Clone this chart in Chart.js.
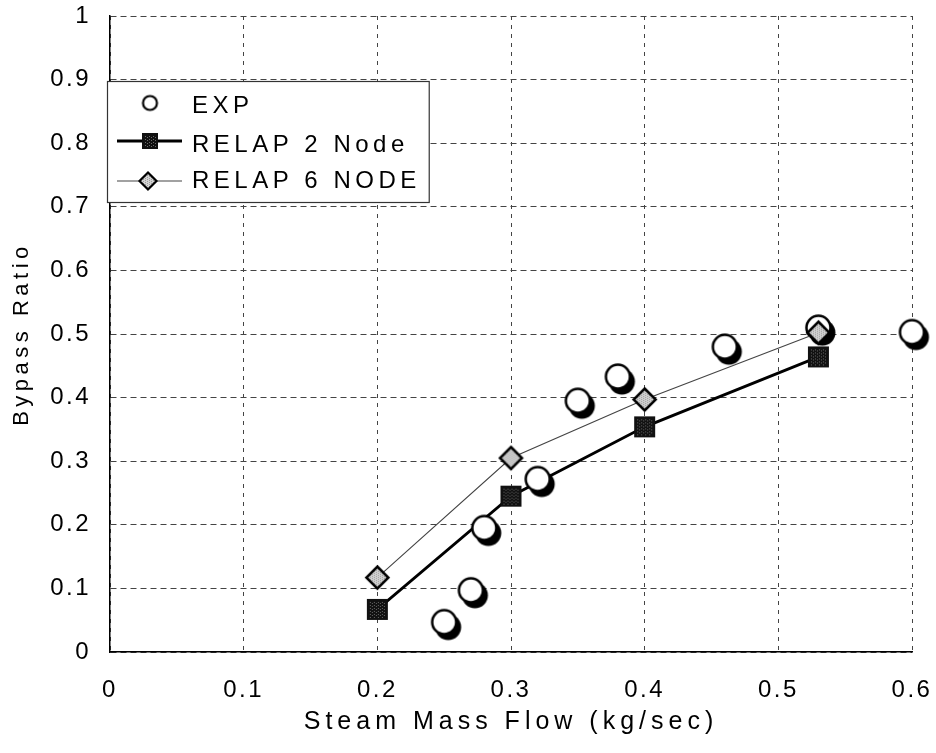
<!DOCTYPE html>
<html>

<head>
    <title>Bypass Ratio</title>
    <script src="https://cdn.jsdelivr.net/npm/chart.js@4.4.0/dist/chart.umd.min.js"></script>
    <style>
        html, body { margin: 0; padding: 0; background: #fff; }
    </style>
</head>

<body>
    <canvas id="myChart" width="936" height="753"></canvas>
</body>
<script>
    // measured data
    const expFlow = [0.25, 0.27, 0.28, 0.32, 0.35, 0.38, 0.46, 0.53, 0.60];
    const expRatio = [0.047, 0.097, 0.195, 0.272, 0.395, 0.433, 0.48, 0.51, 0.503];

    const relap2Flow = [0.2, 0.3, 0.4, 0.53];
    const relap2Ratio = [0.067, 0.245, 0.354, 0.464];

    const relap6Flow = [0.2, 0.3, 0.4, 0.53];
    const relap6Ratio = [0.117, 0.305, 0.397, 0.502];

    const xTickLabels = ['0', '0.1', '0.2', '0.3', '0.4', '0.5', '0.6'];
    const yTickLabels = ['0', '0.1', '0.2', '0.3', '0.4', '0.5', '0.6', '0.7', '0.8', '0.9', '1'];

    const FONT = "'Liberation Sans', Arial, Helvetica, sans-serif";

    function toPoints(xs, ys) {
        return xs.map((x, i) => ({ x: x, y: ys[i] }));
    }

    function makeCanvas(w, h, draw) {
        const c = document.createElement('canvas');
        c.width = w;
        c.height = h;
        draw(c.getContext('2d'));
        return c;
    }

    // white circle with a black drop shadow to the lower right
    function circleMarker(r, lw, shadow) {
        const size = Math.ceil((r + lw + (shadow ? 8 : 2)) * 2);
        return makeCanvas(size, size, g => {
            const c = size / 2;
            if (shadow) {
                g.fillStyle = '#000';
                g.beginPath();
                g.arc(c + 4, c + 5, r + 1, 0, Math.PI * 2);
                g.fill();
            }
            g.beginPath();
            g.arc(c, c, r, 0, Math.PI * 2);
            g.fillStyle = '#fff';
            g.fill();
            g.lineWidth = lw;
            g.strokeStyle = '#000';
            g.stroke();
        });
    }

    // dark square with a grey speckle
    function squareMarker(s) {
        const size = s + 2;
        return makeCanvas(size, size, g => {
            g.fillStyle = '#111';
            g.fillRect(1, 1, s, s);
            g.fillStyle = '#6a6a6a';
            for (let i = 3; i < s - 2; i += 2) {
                for (let j = 3 + (i % 4 === 1 ? 1 : 0); j < s - 2; j += 3) {
                    g.fillRect(1 + i, 1 + j, 1, 1);
                }
            }
        });
    }

    // light grey diamond with black outline
    function diamondMarker(h, lw) {
        const size = Math.ceil(2 * h + lw + 2);
        return makeCanvas(size, size, g => {
            const c = size / 2;
            g.beginPath();
            g.moveTo(c, c - h);
            g.lineTo(c + h, c);
            g.lineTo(c, c + h);
            g.lineTo(c - h, c);
            g.closePath();
            g.fillStyle = '#d2d2d2';
            g.fill();
            g.save();
            g.clip();
            g.fillStyle = '#9c9c9c';
            for (let i = 0; i < size; i += 2) {
                for (let j = (i % 4 === 0 ? 0 : 1); j < size; j += 2) {
                    g.fillRect(i, j, 1, 1);
                }
            }
            g.restore();
            g.lineWidth = lw;
            g.strokeStyle = '#000';
            g.stroke();
        });
    }

    const expImg = circleMarker(12, 2.5, true);
    const sqImg = squareMarker(21);
    const diaImg = diamondMarker(11, 2.5);

    const legendMarks = [circleMarker(7, 2.2, false), squareMarker(16), diamondMarker(8.5, 2.2)];

    // letter spaced text like the scanned original
    const spacingPlugin = {
        id: 'spacing',
        beforeDraw(chart) {
            chart.ctx.letterSpacing = '2.5px';
            ['x', 'y'].forEach(id => {
                const s = chart.scales[id];
                if (s && !s._spaced) {
                    const orig = s.drawTitle;
                    const sp = id === 'x' ? '5px' : '4.5px';
                    s.drawTitle = function () {
                        const prev = this.ctx.letterSpacing;
                        this.ctx.letterSpacing = sp;
                        orig.call(this);
                        this.ctx.letterSpacing = prev;
                    };
                    s._spaced = true;
                }
            });
        }
    };

    // boxed legend inside the plot, top left
    const boxLegend = {
        id: 'boxLegend',
        afterDraw(chart) {
            const ctx = chart.ctx;
            const area = chart.chartArea;
            const left = area.left - 3;
            const top = area.top + 65;
            const markY = [22, 60, 100];
            const textY = [25, 64, 100];
            const markX = [43, 43, 41];
            ctx.save();
            ctx.font = '24px ' + FONT;
            ctx.letterSpacing = '4.5px';
            let maxW = 0;
            chart.data.datasets.forEach(ds => {
                maxW = Math.max(maxW, ctx.measureText(ds.label).width);
            });
            const width = 85 + maxW + 8;
            const height = 121;
            ctx.fillStyle = '#fff';
            ctx.fillRect(left, top, width, height);
            ctx.strokeStyle = '#333';
            ctx.lineWidth = 1.2;
            ctx.strokeRect(left + 0.5, top + 0.5, width, height);

            chart.data.datasets.forEach((ds, i) => {
                const my = top + markY[i];
                if (ds.showLine) {
                    ctx.beginPath();
                    ctx.moveTo(left + 10, my);
                    ctx.lineTo(left + 75, my);
                    ctx.strokeStyle = ds.borderColor;
                    ctx.lineWidth = ds.borderWidth;
                    ctx.stroke();
                }
                const img = legendMarks[i];
                const mx = left + markX[i];
                ctx.drawImage(img, mx - img.width / 2, my - img.height / 2);
                ctx.fillStyle = '#000';
                ctx.textBaseline = 'middle';
                ctx.textAlign = 'left';
                ctx.fillText(ds.label, left + 85, top + textY[i]);
            });
            ctx.restore();
        }
    };

    const canvas = document.getElementById('myChart');

    const myChart = new Chart(canvas, {
        type: 'scatter',
        data: {
            datasets: [{
                label: 'EXP',
                data: toPoints(expFlow, expRatio),
                showLine: false,
                pointStyle: expImg,
                pointRadius: 12,
                clip: false,
                order: 1
            }, {
                label: 'RELAP 2 Node',
                data: toPoints(relap2Flow, relap2Ratio),
                showLine: true,
                borderColor: '#000',
                borderWidth: 2.8,
                pointStyle: sqImg,
                pointRadius: 11,
                clip: false,
                order: 2
            }, {
                label: 'RELAP 6 NODE',
                data: toPoints(relap6Flow, relap6Ratio),
                showLine: true,
                borderColor: '#444',
                borderWidth: 1.1,
                pointStyle: diaImg,
                pointRadius: 11,
                clip: false,
                order: 0
            }]
        },
        options: {
            responsive: false,
            animation: false,
            layout: { padding: { top: 16, right: 24, left: 0, bottom: 0 } },
            plugins: {
                legend: { display: false },
                tooltip: { enabled: false }
            },
            scales: {
                x: {
                    type: 'linear',
                    min: 0,
                    max: 0.6,
                    ticks: {
                        stepSize: 0.1,
                        padding: 24,
                        color: '#000',
                        font: { family: FONT, size: 24 },
                        callback: (v, i) => xTickLabels[i]
                    },
                    grid: { color: '#444', lineWidth: 1, drawTicks: false },
                    border: { display: true, color: '#000', width: 1.5, dash: [4, 5] },
                    title: {
                        display: true,
                        text: 'Steam Mass Flow (kg/sec)',
                        color: '#000',
                        font: { family: FONT, size: 25 },
                        padding: { top: 0, bottom: 16 }
                    },
                    afterFit: s => {
                        s.height = 101;
                        s.paddingLeft = 0;
                        s.paddingRight = 0;
                    }
                },
                y: {
                    type: 'linear',
                    min: 0,
                    max: 1,
                    ticks: {
                        stepSize: 0.1,
                        padding: 19,
                        color: '#000',
                        font: { family: FONT, size: 24 },
                        callback: (v, i) => yTickLabels[i]
                    },
                    grid: { color: '#444', lineWidth: 1, drawTicks: false },
                    border: { display: true, color: '#000', width: 1.5, dash: [6, 4] },
                    title: {
                        display: true,
                        text: 'Bypass Ratio',
                        color: '#000',
                        font: { family: FONT, size: 22 },
                        padding: { top: 9, bottom: 0 }
                    },
                    afterFit: s => {
                        s.width = 110;
                        s.paddingTop = 0;
                        s.paddingBottom = 0;
                    }
                }
            }
        },
        plugins: [spacingPlugin, boxLegend]
    });
</script>

</html>
